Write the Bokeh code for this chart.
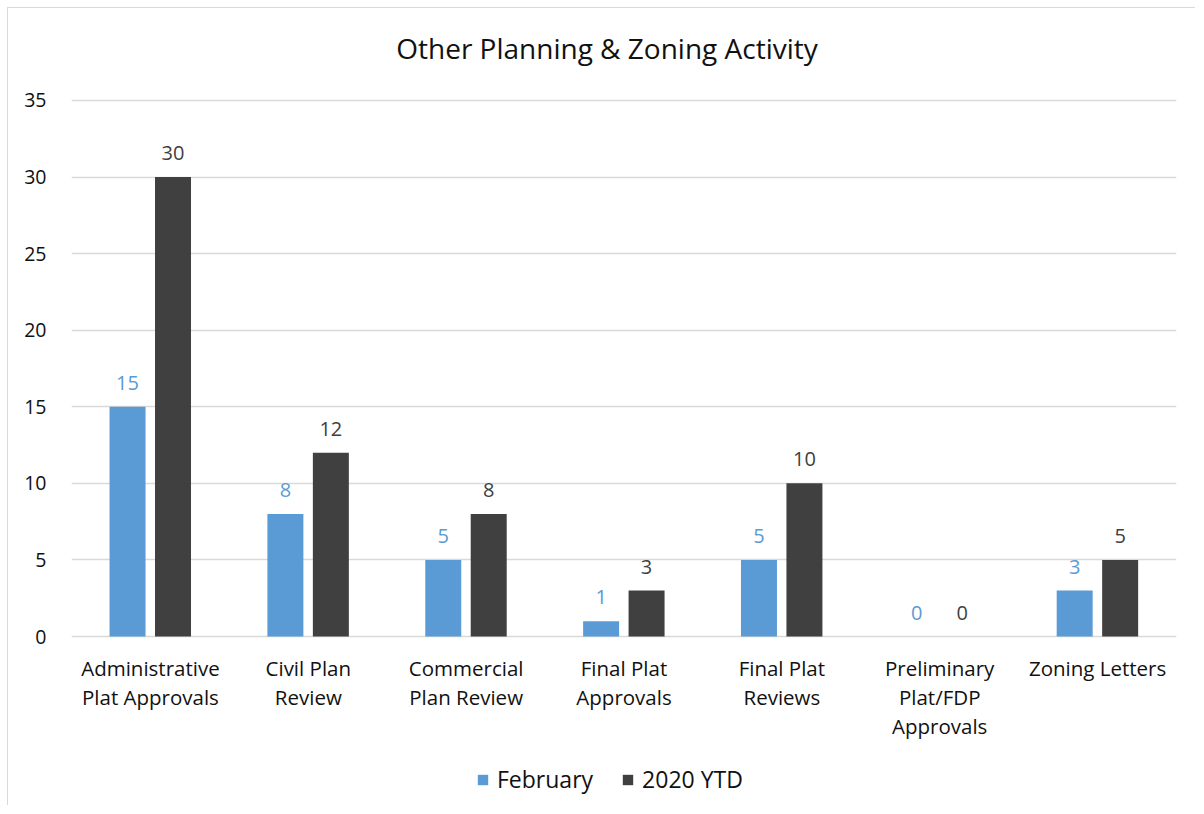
from bokeh.plotting import figure
from bokeh.models import ColumnDataSource, LabelSet, Label, Legend, LegendItem, FixedTicker
from bokeh.transform import dodge
from bokeh.core.properties import value
from bokeh.embed import file_html
from bokeh.resources import INLINE

categories = ["Administrative Plat Approvals", "Civil Plan Review", "Commercial Plan Review",
              "Final Plat Approvals", "Final Plat Reviews", "Preliminary Plat/FDP Approvals",
              "Zoning Letters"]
tick_labels = ["Administrative\nPlat Approvals", "Civil Plan\nReview", "Commercial\nPlan Review",
               "Final Plat\nApprovals", "Final Plat\nReviews", "Preliminary\nPlat/FDP\nApprovals",
               "Zoning Letters"]
february = [15, 8, 5, 1, 5, 0, 3]
ytd_2020 = [30, 12, 8, 3, 10, 0, 5]
series_names = ["February", "2020 YTD"]
chart_title = "Other Planning & Zoning Activity"
y_ticks = [0, 5, 10, 15, 20, 25, 30, 35]

BLUE = "#5B9BD5"
DARK = "#404040"
TXT = "#111111"
FONT = "Open Sans"

n = len(categories)
xpos = [i + 0.5 for i in range(n)]
split = [t.split("\n") + [""] * (3 - len(t.split("\n"))) for t in tick_labels]
src = ColumnDataSource(dict(x=xpos, cat=categories, zero=[0] * n,
                            l0=[s[0] for s in split], l1=[s[1] for s in split], l2=[s[2] for s in split],
                            feb=february, ytd=ytd_2020,
                            feb_t=[str(v) for v in february], ytd_t=[str(v) for v in ytd_2020]))

# frame extends above 35 and below zero so that title, category labels and legend sit inside it
p = figure(x_range=(0, n), y_range=(-10.578, 40.354), width=1188, height=798,
           output_backend="svg", toolbar_location=None,
           min_border_left=63, min_border_right=20, min_border_top=10, min_border_bottom=8,
           styles={"margin-left": "7px", "margin-top": "7px",
                   "border-left": "1px solid #d9d9d9", "border-top": "1px solid #d9d9d9"})
p.outline_line_color = None
p.background_fill_color = "white"
p.border_fill_color = "white"

r1 = p.vbar(x=dodge("x", -0.145), top="feb", width=0.228, source=src,
            fill_color=BLUE, line_color=None)
r2 = p.vbar(x=dodge("x", 0.143), top="ytd", width=0.228, source=src,
            fill_color=DARK, line_color=None)

for col, txt, off, colr in [("feb", "feb_t", -0.145, BLUE), ("ytd", "ytd_t", 0.143, DARK)]:
    p.add_layout(LabelSet(x=dodge("x", off), y=col, text=txt, source=src,
                          text_align="center", text_baseline="bottom", y_offset=17,
                          text_font=value(FONT), text_font_size=value("20px"),
                          text_color=value(colr)))

# category labels under the zero line, one LabelSet per text line so each line is centred
for i, col in enumerate(["l0", "l1", "l2"]):
    p.add_layout(LabelSet(x="x", y="zero", text=col, source=src,
                          text_align="center", text_baseline="middle", y_offset=-31 - 29 * i,
                          text_font=value(FONT), text_font_size=value("20.5px"),
                          text_color=value(TXT)))

# axes
p.yaxis.ticker = FixedTicker(ticks=y_ticks)
p.yaxis.axis_line_color = None
p.yaxis.major_tick_line_color = None
p.yaxis.minor_tick_line_color = None
p.yaxis.major_label_text_font = FONT
p.yaxis.major_label_text_font_size = "19.5px"
p.yaxis.major_label_text_color = TXT
p.yaxis.major_label_standoff = 19
p.xaxis.visible = False

p.xgrid.grid_line_color = None
p.ygrid.grid_line_color = "#d9d9d9"
p.ygrid.grid_line_width = 1.5

# title
p.add_layout(Label(x=n / 2, y=max(y_ticks), x_offset=-17, y_offset=52, text=chart_title,
                   text_align="center", text_baseline="middle",
                   text_font=FONT, text_font_size="28px", text_color=TXT))

legend = Legend(items=[LegendItem(label=series_names[0], renderers=[r1]),
                       LegendItem(label=series_names[1], renderers=[r2])],
                orientation="horizontal", location=(405, 3),
                label_text_font=FONT, label_text_font_size="23px", label_text_color=TXT,
                glyph_width=13, glyph_height=13, label_standoff=8, spacing=28,
                padding=0, margin=0, border_line_color=None, background_fill_alpha=0)
p.add_layout(legend, "center")

open("out.html", "w").write(file_html(p, INLINE))
